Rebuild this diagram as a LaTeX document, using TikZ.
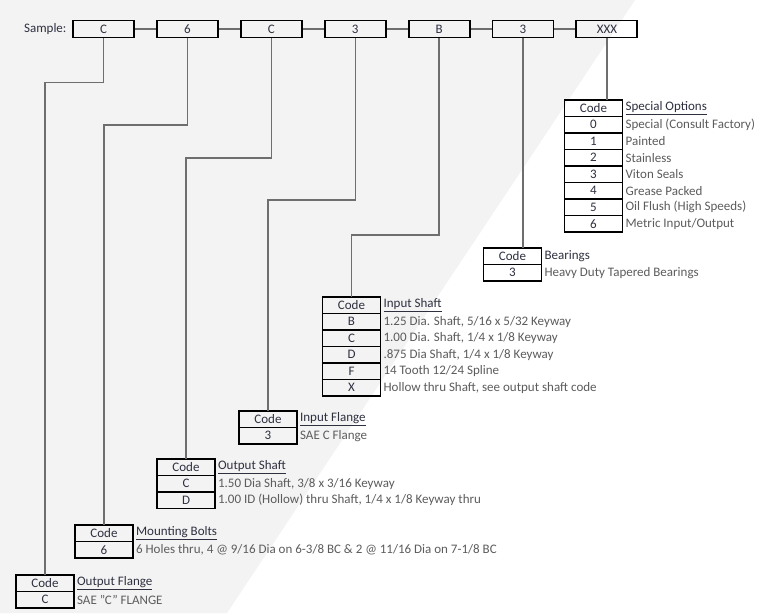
\documentclass[tikz,border=0pt]{standalone}
\usepackage{fontspec}
\setmainfont{Carlito}
\usetikzlibrary{positioning}
\definecolor{cbg}{HTML}{F3F3F3}
\definecolor{cline}{HTML}{6E6E6E}
\definecolor{chead}{HTML}{2E3040}
\definecolor{ctext}{HTML}{5C5C5C}
\newcommand{\diagfont}{\fontsize{13pt}{14pt}\selectfont}
\tikzset{
  every picture/.style={line width=1.2pt},
  sample/.style={draw=black, line width=1.9pt, minimum width=61pt, minimum height=17pt, inner sep=0pt, text=chead, font=\diagfont},
  cell/.style={draw=black, line width=1.9pt, minimum width=58pt, minimum height=16.5pt, inner sep=0pt, outer sep=0pt, text=chead, font=\diagfont},
  link/.style={draw=cline, line width=1.3pt},
  head/.style={anchor=west, inner sep=2.5pt, text=chead, font=\diagfont},
  desc/.style={anchor=west, inner sep=2.5pt, text=ctext, font=\diagfont},
}

\begin{document}
\begin{tikzpicture}[x=1pt, y=1pt, node distance=0pt]
  % page and grey band
  \useasboundingbox (0,0) rectangle (759,-613);
  \fill[white] (0,0) rectangle (759,-613);
  \fill[cbg] (0,0) -- (635,0) -- (227,-613) -- (0,-613) -- cycle;

  % sample code row
  \node[sample] (s1) at (103.5,-29) {C};
  \node[sample, right=21pt of s1] (s2) {6};
  \node[sample, right=21pt of s2] (s3) {C};
  \node[sample, right=21pt of s3] (s4) {3};
  \node[sample, right=21pt of s4] (s5) {B};
  \node[sample, right=21pt of s5] (s6) {3};
  \node[sample, right=21pt of s6] (s7) {XXX};
  \node[anchor=east, text=chead, font=\diagfont, inner sep=2pt] (lbl) at ([xshift=-3pt]s1.west) {Sample:};
  \draw[link] (s1) -- (s2);
  \draw[link] (s2) -- (s3);
  \draw[link] (s3) -- (s4);
  \draw[link] (s4) -- (s5);
  \draw[link] (s5) -- (s6);
  \draw[link] (s6) -- (s7);

  % special options
  \node[cell] (socode) at (593.5,-108.25) {Code};
  \node[cell, below=of socode] (so0) {0};
  \node[cell, below=of so0] (so1) {1};
  \node[cell, below=of so1] (so2) {2};
  \node[cell, below=of so2] (so3) {3};
  \node[cell, below=of so3] (so4) {4};
  \node[cell, below=of so4] (so5) {5};
  \node[cell, below=of so5] (so6) {6};
  \node[head] (sohead) at (socode.east) {\underline{Special Options}};
  \node[desc] (sod0) at (so0.east) {Special (Consult Factory)};
  \node[desc] (sod1) at (so1.east) {Painted};
  \node[desc] (sod2) at (so2.east) {Stainless};
  \node[desc] (sod3) at (so3.east) {Viton Seals};
  \node[desc] (sod4) at (so4.east) {Grease Packed};
  \node[desc] (sod5) at (so5.east) {Oil Flush (High Speeds)};
  \node[desc] (sod6) at (so6.east) {Metric Input/Output};

  % bearings
  \node[cell] (becode) at (512.5,-256.25) {Code};
  \node[cell, below=of becode] (be3) {3};
  \node[head] (behead) at (becode.east) {Bearings};
  \node[desc] (bed3) at (be3.east) {Heavy Duty Tapered Bearings};

  % input shaft
  \node[cell] (iscode) at (351.5,-305.25) {Code};
  \node[cell, below=of iscode] (isb) {B};
  \node[cell, below=of isb] (isc) {C};
  \node[cell, below=of isc] (isd) {D};
  \node[cell, below=of isd] (isf) {F};
  \node[cell, below=of isf] (isx) {X};
  \node[head] (ishead) at (iscode.east) {\underline{Input Shaft}};
  \node[desc] (isdb) at (isb.east) {1.25 Dia. Shaft, 5/16 x 5/32 Keyway};
  \node[desc] (isdc) at (isc.east) {1.00 Dia. Shaft, 1/4 x 1/8 Keyway};
  \node[desc] (isdd) at (isd.east) {.875 Dia Shaft, 1/4 x 1/8 Keyway};
  \node[desc] (isdf) at (isf.east) {14 Tooth 12/24 Spline};
  \node[desc] (isdx) at (isx.east) {Hollow thru Shaft, see output shaft code};

  % input flange
  \node[cell] (ifcode) at (268,-419.25) {Code};
  \node[cell, below=of ifcode] (if3) {3};
  \node[head] (ifhead) at (ifcode.east) {\underline{Input Flange}};
  \node[desc] (ifd3) at (if3.east) {SAE C Flange};

  % output shaft
  \node[cell] (oscode) at (186,-467.25) {Code};
  \node[cell, below=of oscode] (osc) {C};
  \node[cell, below=of osc] (osd) {D};
  \node[head] (oshead) at (oscode.east) {\underline{Output Shaft}};
  \node[desc] (osdc) at (osc.east) {1.50 Dia Shaft, 3/8 x 3/16 Keyway};
  \node[desc] (osdd) at (osd.east) {1.00 ID (Hollow) thru Shaft, 1/4 x 1/8 Keyway thru};

  % mounting bolts
  \node[cell] (mbcode) at (104,-533.25) {Code};
  \node[cell, below=of mbcode] (mb6) {6};
  \node[head] (mbhead) at (mbcode.east) {\underline{Mounting Bolts}};
  \node[desc] (mbd6) at (mb6.east) {6 Holes thru, 4 @ 9/16 Dia on 6-3/8 BC \& 2 @ 11/16 Dia on 7-1/8 BC};

  % output flange
  \node[cell] (ofcode) at (45,-583.25) {Code};
  \node[cell, below=of ofcode] (ofc) {C};
  \node[head] (ofhead) at (ofcode.east) {\underline{Output Flange}};
  \node[desc] (ofdc) at (ofc.east) {SAE "C" FLANGE};

  % leaders from the sample row
  \draw[link] (s1.south) -- ++(0,-44) -| (ofcode.north);
  \draw[link] (s2.south) -- ++(0,-86.5) -| (mbcode.north);
  \draw[link] (s3.south) -- ++(0,-119.5) -| (oscode.north);
  \draw[link] (s4.south) -- ++(0,-161.5) -| (ifcode.north);
  \draw[link] (s5.south) -- ++(0,-196.5) -| (iscode.north);
  \draw[link] (s6.south) -- (s6.south |- becode.north);
  \draw[link] (s7.south) -- (s7.south |- socode.north);
\end{tikzpicture}
\end{document}
